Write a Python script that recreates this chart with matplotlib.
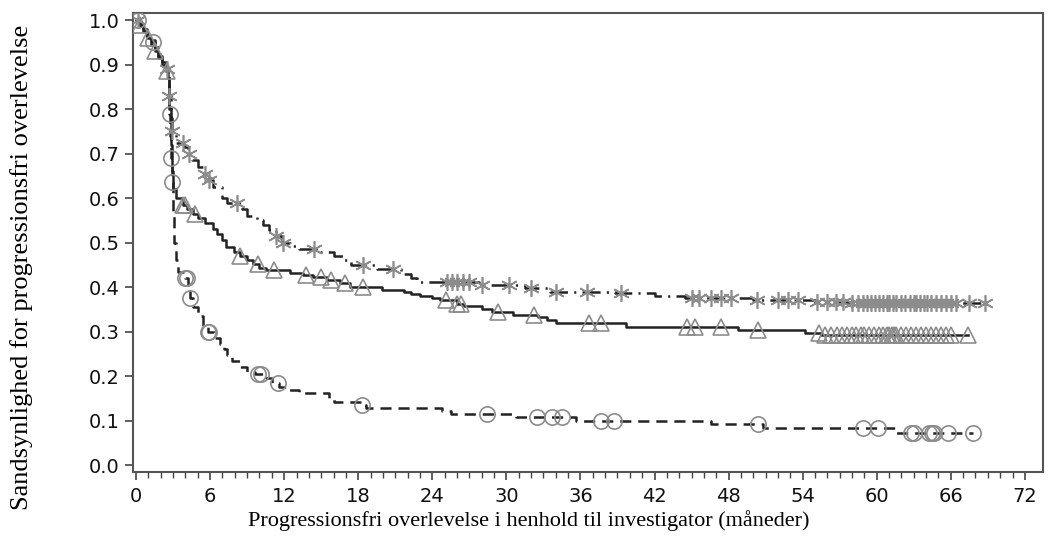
import matplotlib

matplotlib.use('Agg')
import matplotlib.pyplot as plt
import numpy

# --- data (Kaplan-Meier steps + censor times) ---
# top curve, asterisks, dash-dot
time_a = [0, 0.3, 0.6, 0.9, 1.2, 1.5, 1.8, 2.1, 2.4, 2.6, 2.7, 2.8, 2.9, 3.2, 3.9,
          4.2, 4.5, 5.0, 5.5, 5.9, 6.2, 7.0, 7.4, 8.6, 9.0, 9.8, 10.3, 10.8, 11.3,
          11.8, 12.5, 13.2, 14.6, 16.0, 16.8, 17.4, 19.5, 21.5, 22.3, 22.8, 27.8,
          31.5, 33.5, 38.8, 42.0, 44.5, 50.0, 55.0, 58.0]
surv_a = [1.0, 0.99, 0.98, 0.97, 0.955, 0.94, 0.925, 0.905, 0.89, 0.875, 0.83, 0.78,
          0.75, 0.725, 0.715, 0.70, 0.685, 0.67, 0.655, 0.64, 0.625, 0.60, 0.59,
          0.575, 0.56, 0.55, 0.54, 0.528, 0.515, 0.50, 0.493, 0.486, 0.479, 0.47,
          0.46, 0.45, 0.44, 0.43, 0.42, 0.411, 0.405, 0.398, 0.39, 0.386, 0.38,
          0.375, 0.371, 0.367, 0.364]
cens_a = [0.2, 2.5, 2.7, 2.9, 3.8, 4.3, 5.6, 5.9, 8.2, 11.3, 11.9, 14.4, 18.4, 20.8,
          25.2, 25.6, 26.0, 26.5, 27.0, 28.0, 30.2, 32.0, 34.0, 36.5, 39.3, 45.0,
          45.6, 46.6, 47.4, 48.2, 50.3, 52.0, 52.8, 53.6, 55.2, 56.0, 56.7, 57.3,
          58.0, 58.5, 58.9, 59.2, 59.5, 59.9, 60.2, 60.5, 60.8, 61.0, 61.3, 61.6,
          62.0, 62.3, 62.7, 63.0, 63.2, 63.5, 63.8, 64.1, 64.4, 64.8, 65.2, 65.6,
          66.0, 66.4, 67.5, 68.8]

# middle curve, triangles, solid
time_b = [0, 0.3, 0.6, 0.9, 1.2, 1.5, 1.8, 2.1, 2.4, 2.6, 2.7, 2.8, 2.9, 3.0, 3.2,
          3.8, 4.1, 4.6, 5.0, 5.6, 6.2, 6.6, 7.0, 7.3, 7.9, 8.4, 9.0, 9.5, 10.0,
          10.5, 12.5, 13.5, 14.3, 15.5, 16.5, 17.3, 19.9, 21.7, 22.3, 23.0, 24.0,
          24.6, 26.0, 26.6, 28.0, 28.8, 30.5, 32.6, 33.3, 34.0, 39.7, 48.8, 54.2,
          55.5]
surv_b = [1.0, 0.99, 0.975, 0.96, 0.945, 0.93, 0.915, 0.90, 0.885, 0.87, 0.80, 0.72,
          0.66, 0.62, 0.60, 0.585, 0.575, 0.565, 0.555, 0.545, 0.53, 0.52, 0.505,
          0.49, 0.48, 0.47, 0.46, 0.452, 0.444, 0.438, 0.432, 0.427, 0.422, 0.415,
          0.409, 0.40, 0.394, 0.39, 0.385, 0.38, 0.375, 0.37, 0.362, 0.357, 0.35,
          0.344, 0.338, 0.333, 0.327, 0.32, 0.31, 0.303, 0.297, 0.292]
cens_b = [0.3, 1.0, 1.5, 2.5, 3.8, 4.0, 4.8, 8.4, 9.9, 11.2, 13.8, 15.0, 15.8, 16.9,
          18.4, 25.1, 26.0, 26.3, 29.3, 32.2, 36.7, 37.7, 44.6, 45.3, 47.4, 50.4,
          55.3, 55.8, 56.3, 56.8, 57.2, 57.6, 58.0, 58.3, 58.7, 59.0, 59.4, 59.8,
          60.2, 60.5, 60.8, 61.0, 61.2, 61.4, 61.6, 62.0, 62.4, 62.8, 63.2, 63.6,
          64.0, 64.4, 64.8, 65.2, 65.6, 66.0, 67.4]

# bottom curve, circles, dashed
time_c = [0, 0.3, 0.6, 0.9, 1.2, 1.5, 1.8, 2.1, 2.4, 2.6, 2.7, 2.75, 2.8, 2.9, 3.0,
          3.1, 3.2, 3.4, 4.0, 4.2, 4.4, 4.6, 5.0, 5.4, 5.8, 6.3, 6.8, 7.1, 7.4, 7.8,
          8.4, 9.0, 9.6, 10.3, 11.0, 11.6, 12.4, 13.2, 15.6, 16.0, 18.2, 18.6,
          24.8, 25.5, 30.8, 35.6, 46.6, 50.8, 61.5]
surv_c = [1.0, 0.99, 0.98, 0.965, 0.95, 0.935, 0.92, 0.90, 0.885, 0.87, 0.79, 0.74,
          0.69, 0.636, 0.56, 0.50, 0.46, 0.435, 0.42, 0.405, 0.375, 0.355, 0.335,
          0.315, 0.298, 0.285, 0.272, 0.26, 0.248, 0.235, 0.22, 0.21, 0.204, 0.195,
          0.185, 0.176, 0.169, 0.162, 0.15, 0.142, 0.135, 0.128, 0.122, 0.115,
          0.108, 0.10, 0.092, 0.083, 0.073]
cens_c = [0.2, 1.4, 2.72, 2.82, 2.92, 4.0, 4.1, 4.4, 5.8, 5.9, 9.9, 10.1, 11.5, 18.3,
          28.4, 32.5, 33.7, 34.5, 37.7, 38.7, 50.4, 58.9, 60.1, 62.8, 63.0, 64.2,
          64.5, 64.6, 65.8, 67.8]

xticks = list(range(0, 73, 6))
yticks = [0.0, 0.1, 0.2, 0.3, 0.4, 0.5, 0.6, 0.7, 0.8, 0.9, 1.0]

line_col = '#222222'
mark_col = '#8c8c8c'


def km(ax, t, s, cens, ls, marker, msize):
    t = numpy.array(t)
    s = numpy.array(s)
    cens = numpy.array(cens)
    # linje forlaenges til sidste observation
    tt = numpy.append(t, cens.max())
    ss = numpy.append(s, s[-1])
    ax.step(tt, ss, where='post', color=line_col, lw=1.8, dashes=ls, zorder=3)
    idx = numpy.searchsorted(t, cens, side='right') - 1
    ax.plot(cens, s[idx], ls='none', marker=marker, ms=msize, mfc='none',
            mec=mark_col, mew=1.2, zorder=4)


def main():
    plt.rcParams['lines.scale_dashes'] = False
    fig = plt.figure(figsize=(10.55, 5.44), dpi=100)
    ax = fig.add_axes([0.126, 0.132, 0.863, 0.844])

    km(ax, time_a, surv_a, cens_a, (13, 4.5, 1.5, 4.5), (6, 2, 0), 12)
    km(ax, time_b, surv_b, cens_b, (None, None), '^', 11)
    km(ax, time_c, surv_c, cens_c, (8, 5), 'o', 11)

    ax.set_xlim(-0.25, 73.5)
    ax.set_ylim(-0.016, 1.016)
    ax.set_xticks(xticks)
    ax.set_xticks(numpy.arange(0, 73, 1), minor=True)
    ax.set_yticks(yticks)
    ax.set_yticklabels(['%.1f' % v for v in yticks])
    ax.tick_params(axis='both', which='major', length=6, width=1.2, color='#444',
                   labelsize=14, labelcolor='#111')
    ax.tick_params(axis='x', which='major', pad=5)
    ax.tick_params(axis='x', which='minor', length=4, width=1.0, color='#444')
    for lab in ax.get_xticklabels() + ax.get_yticklabels():
        lab.set_family('DejaVu Sans')
    for sp in ax.spines.values():
        sp.set_linewidth(1.5)
        sp.set_color('#555')

    # aksetitler placeret som i forlaegget (lidt forskudt fra midten)
    fig.text(529 / 1055, 1 - 521 / 544,
             'Progressionsfri overlevelse i henhold til investigator (måneder)',
             family='Liberation Serif', fontsize=16, ha='center', va='center')
    fig.text(22 / 1055, 1 - 267 / 544,
             'Sandsynlighed for progressionsfri overlevelse',
             family='Liberation Serif', fontsize=19, ha='center', va='center',
             rotation=90)

    fig.savefig('out.png', dpi=100)


if __name__ == '__main__':
    main()
